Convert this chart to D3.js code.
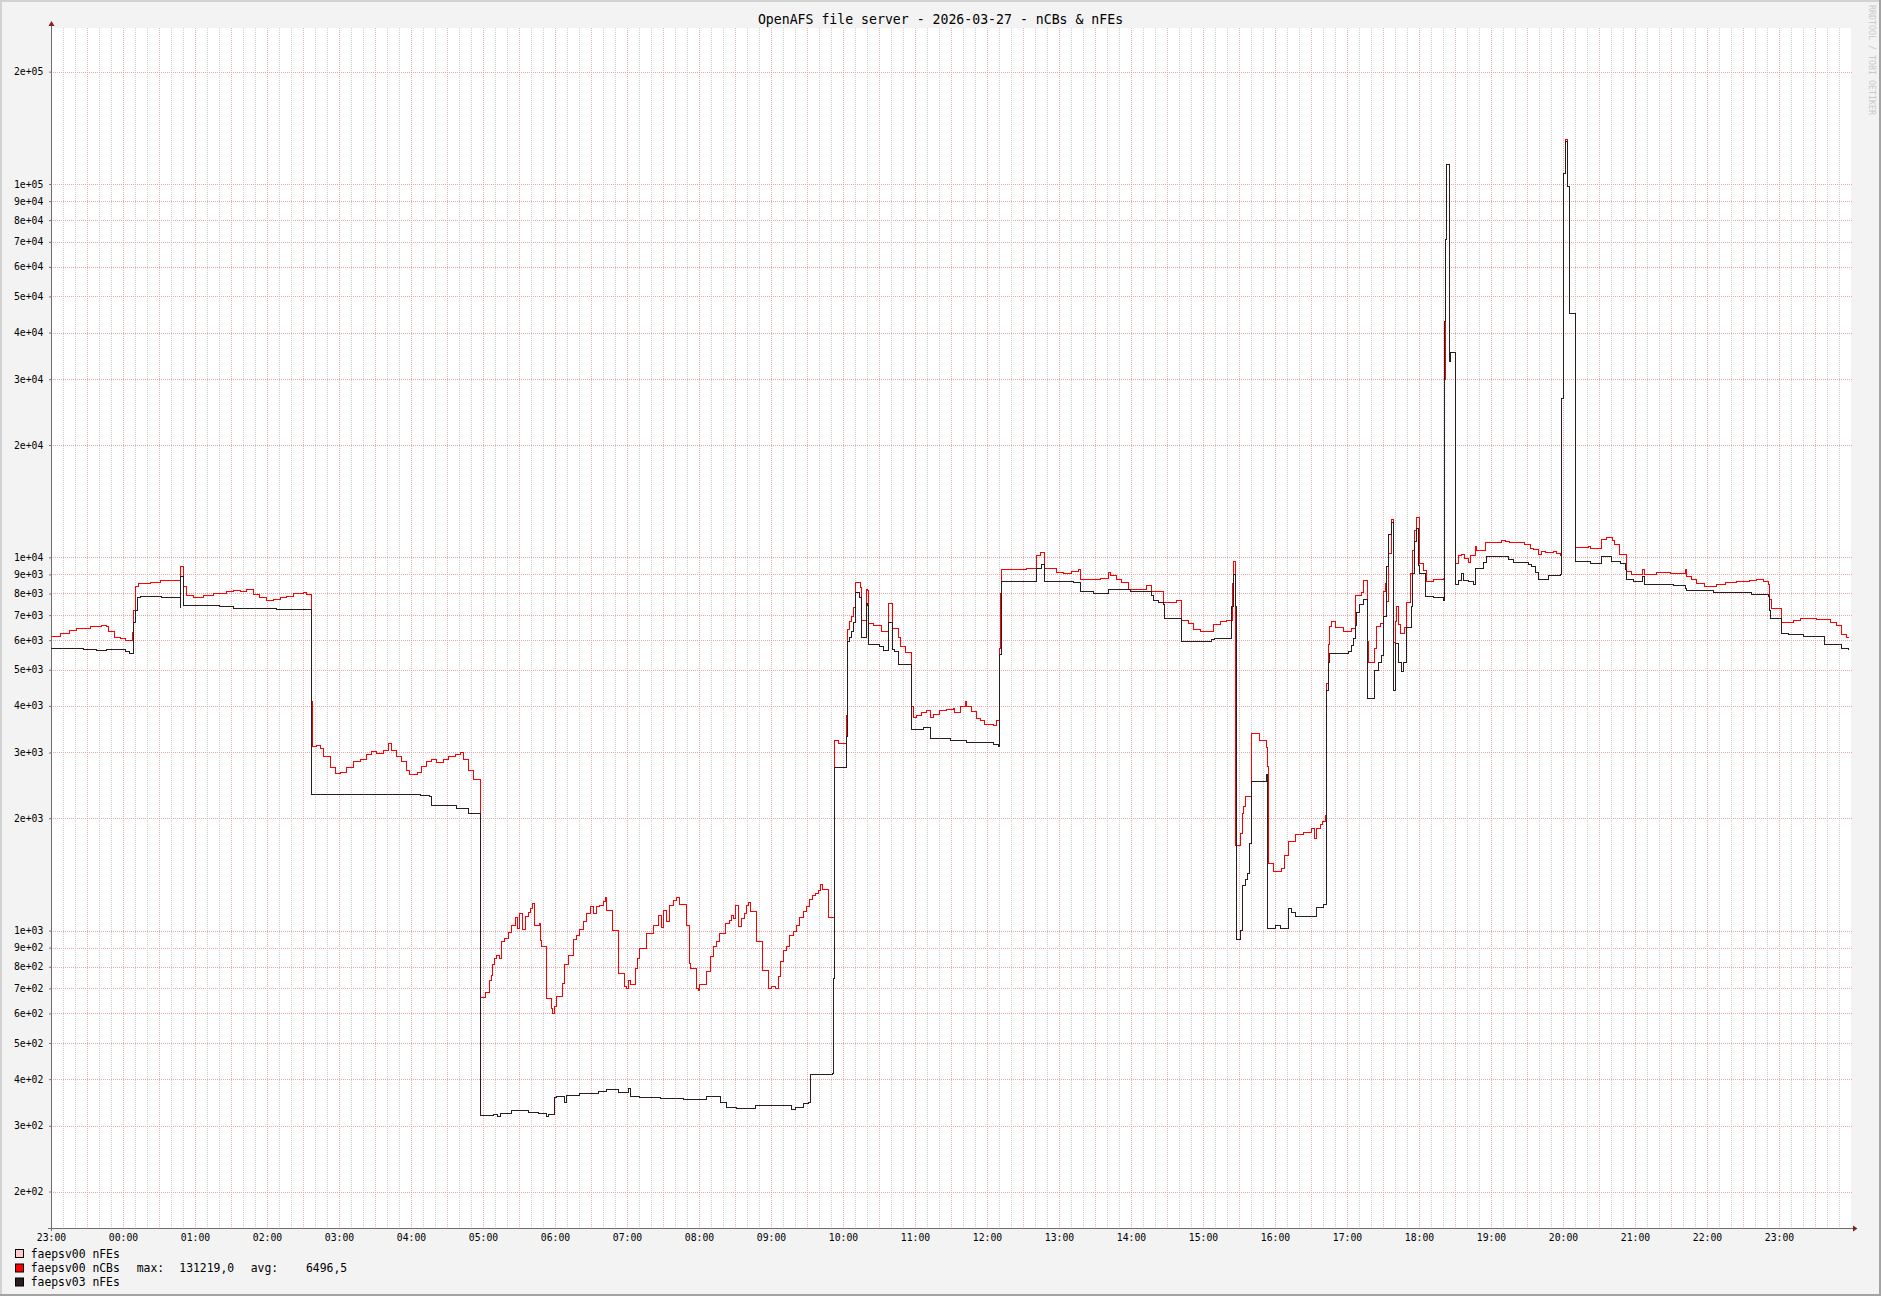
<!DOCTYPE html>
<html>
<head>
<meta charset="utf-8">
<script src="https://cdn.jsdelivr.net/npm/d3@7"></script>
<style>
  html, body { margin: 0; padding: 0; background: #f3f3f3; }
  svg { display: block; }
  text { font-family: "DejaVu Sans Mono", monospace; fill: #000; }
</style>
</head>
<body>
<div id="chart"></div>
<script>
// ---- data ----
const chartTitle = "OpenAFS file server - 2026-03-27 - nCBs & nFEs";
const hourLabels = ["23:00","00:00","01:00","02:00","03:00","04:00","05:00","06:00","07:00","08:00",
  "09:00","10:00","11:00","12:00","13:00","14:00","15:00","16:00","17:00","18:00","19:00","20:00",
  "21:00","22:00","23:00"];
const yTickValues = [200,300,400,500,600,700,800,900,
  1000,2000,3000,4000,5000,6000,7000,8000,9000,
  10000,20000,30000,40000,50000,60000,70000,80000,90000,100000,200000];
const legendNames = ["faepsv00 nFEs", "faepsv00 nCBs", "faepsv03 nFEs"];
const legendColors = ["#ffcccc", "#ff0000", "#2b1d1d"];
const ncbStats = { max: "131219,0", avg: "6496,5" };

// [minutes after 23:00, value]
const ncbs = [[0,6134],[7.5,6251],[15.8,6370],[21.4,6461],[32.5,6523],[42.2,6585],[46.4,6523],[47.8,6324],
  [53.3,6105],[57.5,6050],[61.7,6004],[68.1,6300],[69,7202],[70.5,8340],[72.5,8500],[82.5,8560],[91,8641],
  [107.5,7915],[108.1,9453],[110.8,8340],[113,7915],[118.6,7787],[127,7915],[135.3,8010],[146.4,8105],
  [152,8163],[157.5,8105],[163,8200],[168.6,7953],[174,7823],[179.7,7677],[185.3,7720],[191,7800],
  [196.4,7870],[202,7990],[210.3,8048],[213,7953],[217,4100],[217.8,3112],[221.4,3140],[224.2,3075],
  [227,2933],[232.5,2733],[236.7,2637],[241,2650],[246.4,2733],[252,2831],[257.5,2880],[263,2968],
  [267,3010],[271.4,2990],[277,3040],[281,3170],[284,3030],[288,2933],[292.2,2831],[296.4,2681],
  [299,2618],[305,2650],[309,2760],[313,2831],[317,2878],[321.4,2820],[327,2878],[331,2920],[336.7,2968],
  [341.4,3003],[343.6,2878],[347.8,2681],[352,2533],[357.5,1060],[358.1,662],[361.7,683],[365.8,737],
  [367.2,760],[368,809],[369.4,843],[371.4,860],[373.6,843],[375.6,934],[378.3,953],[381.1,987],
  [383.9,1035],[386.7,1085],[388.6,1014],[390.8,1112],[393,1004],[395.8,1090],[397.8,1117],[399.2,1147],
  [401.4,1183],[403.3,1029],[407,1046],[407.5,940],[408.9,906],[412.5,715],[413.1,658],[417.2,619],
  [418,600],[419.2,626],[421.4,665],[426.4,722],[428.3,809],[431.1,860],[435.3,944],[438.1,973],
  [440.8,1004],[443.6,1056],[446.4,1112],[449.2,1159],[452,1112],[454.2,1159],[457,1171],[460.3,1195],
  [461.7,1228],[463.1,1135],[468,1002],[472.8,768],[477.5,707],[479.7,700],[481.1,734],[482.5,715],
  [486.7,792],[488.6,843],[490.8,896],[496.4,983],[501.9,1035],[506.1,1101],[508.9,1020],[510.8,1135],
  [513.1,1060],[515.8,1171],[518.6,1203],[521.4,1228],[523.6,1178],[529.7,1029],[532,817],[533.1,792],
  [537.5,700],[539.4,693],[540.8,715],[546.4,776],[549.2,851],[551.9,906],[554.7,934],[557,983],
  [561.7,1046],[565.8,1067],[567.2,1101],[568.6,1080],[570.8,1171],[572.8,1025],[575.6,1080],[577.5,1112],
  [579.2,1171],[581.1,1188],[583.1,1124],[587.5,934],[593.1,784],[597.8,700],[600.6,707],[603.4,700],
  [606.1,752],[608.1,825],[610.3,887],[613.1,906],[615.8,973],[618.6,993],[621.4,1035],[623.6,1083],
  [626.9,1124],[629.7,1159],[632,1208],[634.7,1245],[636.7,1258],[639.4,1284],[641.4,1332],[643.1,1290],
  [647.8,1085],[652.5,2000],[652.8,3224],[656.1,3164],[663.1,3760],[663.9,6400],[665.8,6710],[667.2,6930],
  [668.6,7336],[670,8585],[674.2,8300],[675.6,6789],[679.2,8209],[680.2,8150],[681.1,6634],[685.3,6557],
  [692.2,6324],[697.8,7516],[701.4,6450],[706.1,6105],[707.5,5761],[711.7,5564],[717.2,3990],[718.6,3733],
  [721.4,3780],[725.6,3830],[729.7,3880],[732.5,3733],[735.3,3800],[740.8,3880],[746.4,3920],[752,3940],
  [753.3,3830],[757.5,3980],[761.7,4102],[763.1,3990],[767.2,3860],[771.4,3700],[774.2,3660],[778.3,3560],
  [785.3,3545],[788.1,3650],[790.3,5686],[791.4,8000],[792.2,9274],[802,9300],[813.1,9310],[821.4,10100],
  [824.2,10315],[828.3,9338],[838.1,9120],[843.6,9060],[850.6,9180],[856.1,9250],[857.5,8744],[874.2,8800],
  [881.1,9120],[882.5,8950],[888.1,8700],[892.2,8550],[897.8,8200],[913.1,8400],[917.2,8100],[927,7589],
  [938.1,7680],[942.2,6789],[947.8,6660],[952,6400],[957.5,6340],[968.6,6600],[974.2,6710],[979.7,6790],
  [984.7,8500],[985.8,9748],[987.2,1695],[991.4,1820],[992.5,2061],[993.6,2150],[995.8,2293],[1000,3376],
  [1007,3240],[1012.5,3100],[1013.6,2748],[1014.4,1514],[1018.6,1438],[1025.6,1470],[1028.3,1585],
  [1031.1,1731],[1036.7,1806],[1043.6,1830],[1050.6,1880],[1053.3,1760],[1054.7,1880],[1057.5,1920],
  [1059.7,1960],[1061.7,2030],[1062.5,2200],[1063.1,4596],[1064.4,5850],[1065.8,6518],[1067.2,6720],
  [1070,6480],[1077,6330],[1083.9,6440],[1086.7,7925],[1092.2,8060],[1093.6,8694],[1097.2,5943],
  [1097.8,5220],[1103.3,5700],[1104.7,6518],[1107.5,6650],[1110.3,7060],[1110.8,8110],[1112.2,8500],
  [1112.5,7600],[1114.4,10250],[1117.2,12600],[1118.6,5900],[1120,6722],[1121.4,7400],[1122.8,6600],
  [1124.2,6256],[1127.5,6500],[1129.2,7560],[1133.3,9060],[1134.7,10400],[1136.1,11800],[1137.5,12800],
  [1140.3,9640],[1143.6,9210],[1146.4,8620],[1151.9,8700],[1160.3,8750],[1161.1,30000],[1161.7,42700],
  [1162.2,70900],[1163,112600],[1165.3,83600],[1165.8,35400],[1170,18300],[1170.8,9634],[1172.8,10090],
  [1175.6,10200],[1178.3,9900],[1181.1,9700],[1182.5,10100],[1186.7,10700],[1188.1,10400],[1195,10950],
  [1208.9,11120],[1211.7,11050],[1215.8,10950],[1228.3,10800],[1232.5,10580],[1235.3,10480],[1239.4,10170],
  [1242.2,10350],[1245,10280],[1252,10350],[1254.7,10230],[1257.5,10100],[1258.9,26600],[1260.3,47100],
  [1260.8,106600],[1261.7,131219],[1263.9,98700],[1265.8,45100],[1270.6,10600],[1281.1,10700],[1282.5,10550],
  [1292.2,11190],[1296.4,11300],[1301.4,11100],[1303.3,10800],[1307,10170],[1313.1,9172],[1317.2,8972],
  [1326.4,9250],[1328.3,8972],[1335.3,9010],[1338.1,9100],[1349.2,9060],[1361.7,9250],[1362.5,8900],
  [1367.2,8718],[1371.4,8530],[1378.3,8378],[1388.1,8460],[1395,8560],[1404.7,8620],[1415.8,8680],
  [1421.4,8720],[1427,8620],[1431.1,8470],[1432,7722],[1433.9,7280],[1442.2,6690],[1452,6770],
  [1457.5,6850],[1471.4,6800],[1482.5,6700],[1488.1,6550],[1492.2,6193],[1496.4,6100],[1498,6100]];

const nfes03 = [[0,5713],[26.9,5660],[38,5633],[46.4,5660],[61.7,5580],[65.8,5530],[68.6,6709],[70,7202],
  [71.9,7823],[74.2,7860],[92.2,7805],[107.5,7320],[108.3,8910],[110.8,7428],[140.8,7380],[152,7300],
  [168.6,7280],[188,7255],[202,7230],[217.2,2316],[307.5,2300],[315.8,2280],[317.2,2167],[338,2130],
  [347.8,2057],[357.5,319],[358.1,320.6],[361.7,319],[368.6,322],[372,318],[374.2,324],[383.9,329],
  [397.8,325],[406.1,324],[412.5,317],[414.4,322],[419.2,357.5],[421.4,360.5],[427.5,347],[429.2,362.7],
  [440.8,365],[446.4,366.5],[456.1,370],[463.1,375.5],[472.8,368],[481.1,378],[482.5,360.5],[490.8,357.5],
  [507.5,355],[527,352.6],[546.4,360.5],[557.5,345.9],[562.5,336],[571.4,334],[586.7,339.6],[617.2,331],
  [620,335],[627,343.5],[631.1,347],[632.5,412],[651.4,415],[652,744],[652.8,2606],[653.3,2733],
  [663.1,3301],[663.9,5962],[665.8,6105],[667.2,6324],[668.6,6709],[670.8,8070],[673.6,7800],[675,6105],
  [679.2,7516],[680.2,7450],[681.1,5850],[690.8,5760],[693.6,5632],[697.8,6709],[701.4,5680],[703.3,5600],
  [706.1,5172],[717.2,3460],[727,3500],[732.5,3263],[749.2,3230],[763.1,3190],[785.3,3150],[789.5,3120],
  [790.3,5500],[792.2,8601],[821.4,9338],[825.6,9570],[828.3,8601],[852,8560],[857.5,8105],[868.6,8020],
  [881.1,8200],[899.2,8105],[917.2,7900],[918.6,7650],[922.8,7550],[927,7480],[928.3,6871],[942.2,5962],
  [967.2,6030],[969.6,6067],[983.9,7375],[985.8,8967],[986.9,7375],[987.5,946],[991.4,1003],[993.1,1324],
  [995,1370],[997,1420],[998.6,1713],[1000.6,2506],[1012.5,2620],[1013.6,1014],[1020,1030],[1024.2,1015],
  [1031.1,1147],[1033.9,1120],[1036.7,1090],[1054.7,1150],[1060.3,1175],[1062.5,1355],[1063.1,4400],
  [1064.4,5220],[1065.8,5530],[1081.1,5580],[1083.9,5800],[1085.3,6067],[1086.7,6580],[1088.1,7130],
  [1090.8,7460],[1093.6,7716],[1097.2,4190],[1102.5,4989],[1106.1,5220],[1108.9,5460],[1110.3,6930],
  [1113.1,9450],[1114.4,11500],[1117.2,12400],[1118.6,4411],[1120,5860],[1122.8,5220],[1125.6,4950],
  [1126.9,5220],[1129.7,6480],[1133.9,7400],[1134.7,9060],[1136.1,11000],[1138,11960],[1139.7,9500],
  [1140.8,9061],[1145,7843],[1151.9,7800],[1160.3,7680],[1161.4,42700],[1162.2,70900],[1163,112600],
  [1165.3,83600],[1165.8,33500],[1166.4,35400],[1170.8,8433],[1172.8,8650],[1175.6,9061],[1177,8650],
  [1181.1,8590],[1185.3,8450],[1186.7,9330],[1193.6,9700],[1196.4,10020],[1214.4,9850],[1218.6,9700],
  [1231.1,9580],[1233.9,9430],[1236.7,9130],[1239.4,8700],[1243.6,8740],[1247.8,8940],[1257.5,9000],
  [1258.9,26600],[1260.3,47100],[1260.8,106600],[1261.7,130000],[1263.9,98700],[1265.8,45100],
  [1270.6,9735],[1282.5,9600],[1292.2,10060],[1300.6,9735],[1307.5,9620],[1311.7,9300],[1313.1,8718],
  [1318.6,8620],[1326.4,8880],[1328.3,8472],[1351.9,8400],[1361.7,8240],[1363.1,8157],[1385.3,8069],
  [1402,8030],[1417.2,7950],[1431.1,7860],[1432,7200],[1432.5,6869],[1441.7,6262],[1447.8,6200],
  [1460.3,6120],[1477.5,5836],[1492.1,5694],[1497.8,5660]];

// ---- layout ----
const W = 1881, H = 1296;
const margin = { top: 28, right: 30, bottom: 68, left: 51 };
const width = W - margin.left - margin.right;   // 1800
const height = H - margin.top - margin.bottom;  // 1200

const start = new Date(2026, 2, 26, 23, 0);
const end = new Date(2026, 2, 28, 0, 0);
const atMinute = m => new Date(start.getTime() + m * 60000);

const svg = d3.select("#chart")
  .append("svg")
    .attr("width", W)
    .attr("height", H);

// background and 3d frame
svg.append("rect").attr("width", W).attr("height", H).attr("fill", "#f3f3f3");
svg.append("path").attr("d", `M0,${H} V0 H${W}`).attr("fill", "none")
  .attr("stroke", "#d2d2d2").attr("stroke-width", 4);
svg.append("path").attr("d", `M0,${H} H${W} V0`).attr("fill", "none")
  .attr("stroke", "#a3a3a3").attr("stroke-width", 4);

const g = svg.append("g")
  .attr("transform", `translate(${margin.left},${margin.top})`);

g.append("rect").attr("width", width).attr("height", height).attr("fill", "#ffffff");

// scales
const x = d3.scaleTime().domain([start, end]).range([0, width]);
const y = d3.scaleLog().domain([159.7, 261800]).range([height, 0]);

const px = v => Math.round(v) + 0.5;

// vertical grid: minor every 10 min, major every 30 min
const minorTimes = d3.timeMinute.every(10).range(start, end).filter(d => d.getMinutes() % 30 !== 0);
const majorTimes = d3.timeMinute.every(30).range(start, end);

g.append("g").selectAll("line")
  .data(minorTimes)
  .join("line")
    .attr("x1", d => px(x(d))).attr("x2", d => px(x(d)))
    .attr("y1", 0).attr("y2", height + 2)
    .attr("stroke", "#cdcdcd")
    .attr("stroke-dasharray", "1,1");

g.append("g").selectAll("line")
  .data(majorTimes.filter(d => d > start))
  .join("line")
    .attr("x1", d => px(x(d))).attr("x2", d => px(x(d)))
    .attr("y1", 0).attr("y2", height + 2)
    .attr("stroke", "#ebb0b0")
    .attr("stroke-dasharray", "1,1");

// horizontal grid at every labelled value
g.append("g").selectAll("line")
  .data(yTickValues)
  .join("line")
    .attr("x1", 0).attr("x2", width + 1)
    .attr("y1", d => px(y(d))).attr("y2", d => px(y(d)))
    .attr("stroke", "#e8a6a6")
    .attr("stroke-dasharray", "1,1");

// y axis labels like 2e+02
const expFormat = v => {
  const e = Math.floor(Math.log10(v) + 1e-9);
  const m = Math.round(v / Math.pow(10, e));
  return `${m}e+${String(e).padStart(2, "0")}`;
};

const yAxis = g.append("g")
  .call(d3.axisLeft(y).tickValues(yTickValues).tickFormat(expFormat).tickSize(2).tickPadding(5.7));
yAxis.select(".domain").remove();
yAxis.selectAll("line").attr("stroke", "#777");
yAxis.selectAll("text")
  .style("font-family", "'DejaVu Sans Mono', monospace")
  .style("font-size", "9.75px")
  .attr("fill", "#000");

// x axis labels every hour
const hourTicks = hourLabels.map((_, i) => d3.timeHour.offset(start, i));
const xAxis = g.append("g")
  .attr("transform", `translate(0,${height})`)
  .call(d3.axisBottom(x).tickValues(hourTicks).tickFormat((d, i) => hourLabels[i]).tickSize(0).tickPadding(6));
xAxis.select(".domain").remove();
xAxis.selectAll("text")
  .style("font-family", "'DejaVu Sans Mono', monospace")
  .style("font-size", "9.75px")
  .attr("fill", "#000");

// axis lines with arrows
g.append("line").attr("x1", 0.5).attr("x2", 0.5).attr("y1", -4).attr("y2", height + 3)
  .attr("stroke", "#6e6e6e");
g.append("line").attr("x1", -3).attr("x2", width + 3).attr("y1", height + 0.5).attr("y2", height + 0.5)
  .attr("stroke", "#6e6e6e");
g.append("path").attr("d", "M0.5,-7 L-2.5,-2 L3.5,-2 Z").attr("fill", "#8f1d1d");
g.append("path").attr("d", `M${width + 6.5},${height + 0.5} L${width + 2},${height - 2.5} L${width + 2},${height + 3.5} Z`)
  .attr("fill", "#8f1d1d");

// series lines
const line = d3.line()
  .x(d => x(atMinute(d[0])))
  .y(d => y(d[1]))
  .curve(d3.curveStepAfter);

const plot = g.append("g");
plot.append("path")
  .datum(ncbs)
  .attr("d", line)
  .attr("fill", "none")
  .attr("stroke", legendColors[1])
  .attr("stroke-width", 1)
  .attr("shape-rendering", "crispEdges");

plot.append("path")
  .datum(nfes03)
  .attr("d", line)
  .attr("fill", "none")
  .attr("stroke", legendColors[2])
  .attr("stroke-width", 1)
  .attr("shape-rendering", "crispEdges");

// title
svg.append("text")
  .attr("x", W / 2)
  .attr("y", 24)
  .attr("text-anchor", "middle")
  .style("font-size", "13.2px")
  .text(chartTitle);

// watermark on the right
svg.append("text")
  .attr("transform", "translate(1869,5) rotate(90)")
  .style("font-size", "8.3px")
  .style("fill", "#c9c9c9")
  .text("RRDTOOL / TOBI OETIKER");

// legend
const legendBase = [1257.5, 1272, 1286];
const legend = svg.append("g");
legend.selectAll("rect")
  .data(legendNames)
  .join("rect")
    .attr("x", 15.5)
    .attr("y", (d, i) => legendBase[i] - 8)
    .attr("width", 8)
    .attr("height", 8)
    .attr("fill", (d, i) => legendColors[i])
    .attr("stroke", "#000")
    .attr("stroke-width", 1);

legend.selectAll("text.name")
  .data(legendNames)
  .join("text")
    .attr("class", "name")
    .attr("x", 30.7)
    .attr("y", (d, i) => legendBase[i])
    .style("font-size", "11.4px")
    .text(d => d);

const statParts = [["max:", 136.7], [ncbStats.max, 179.3], ["avg:", 250.7], [ncbStats.avg, 306]];
legend.selectAll("text.stat")
  .data(statParts)
  .join("text")
    .attr("class", "stat")
    .attr("x", d => d[1])
    .attr("y", legendBase[1])
    .style("font-size", "11.4px")
    .text(d => d[0]);
</script>
</body>
</html>
